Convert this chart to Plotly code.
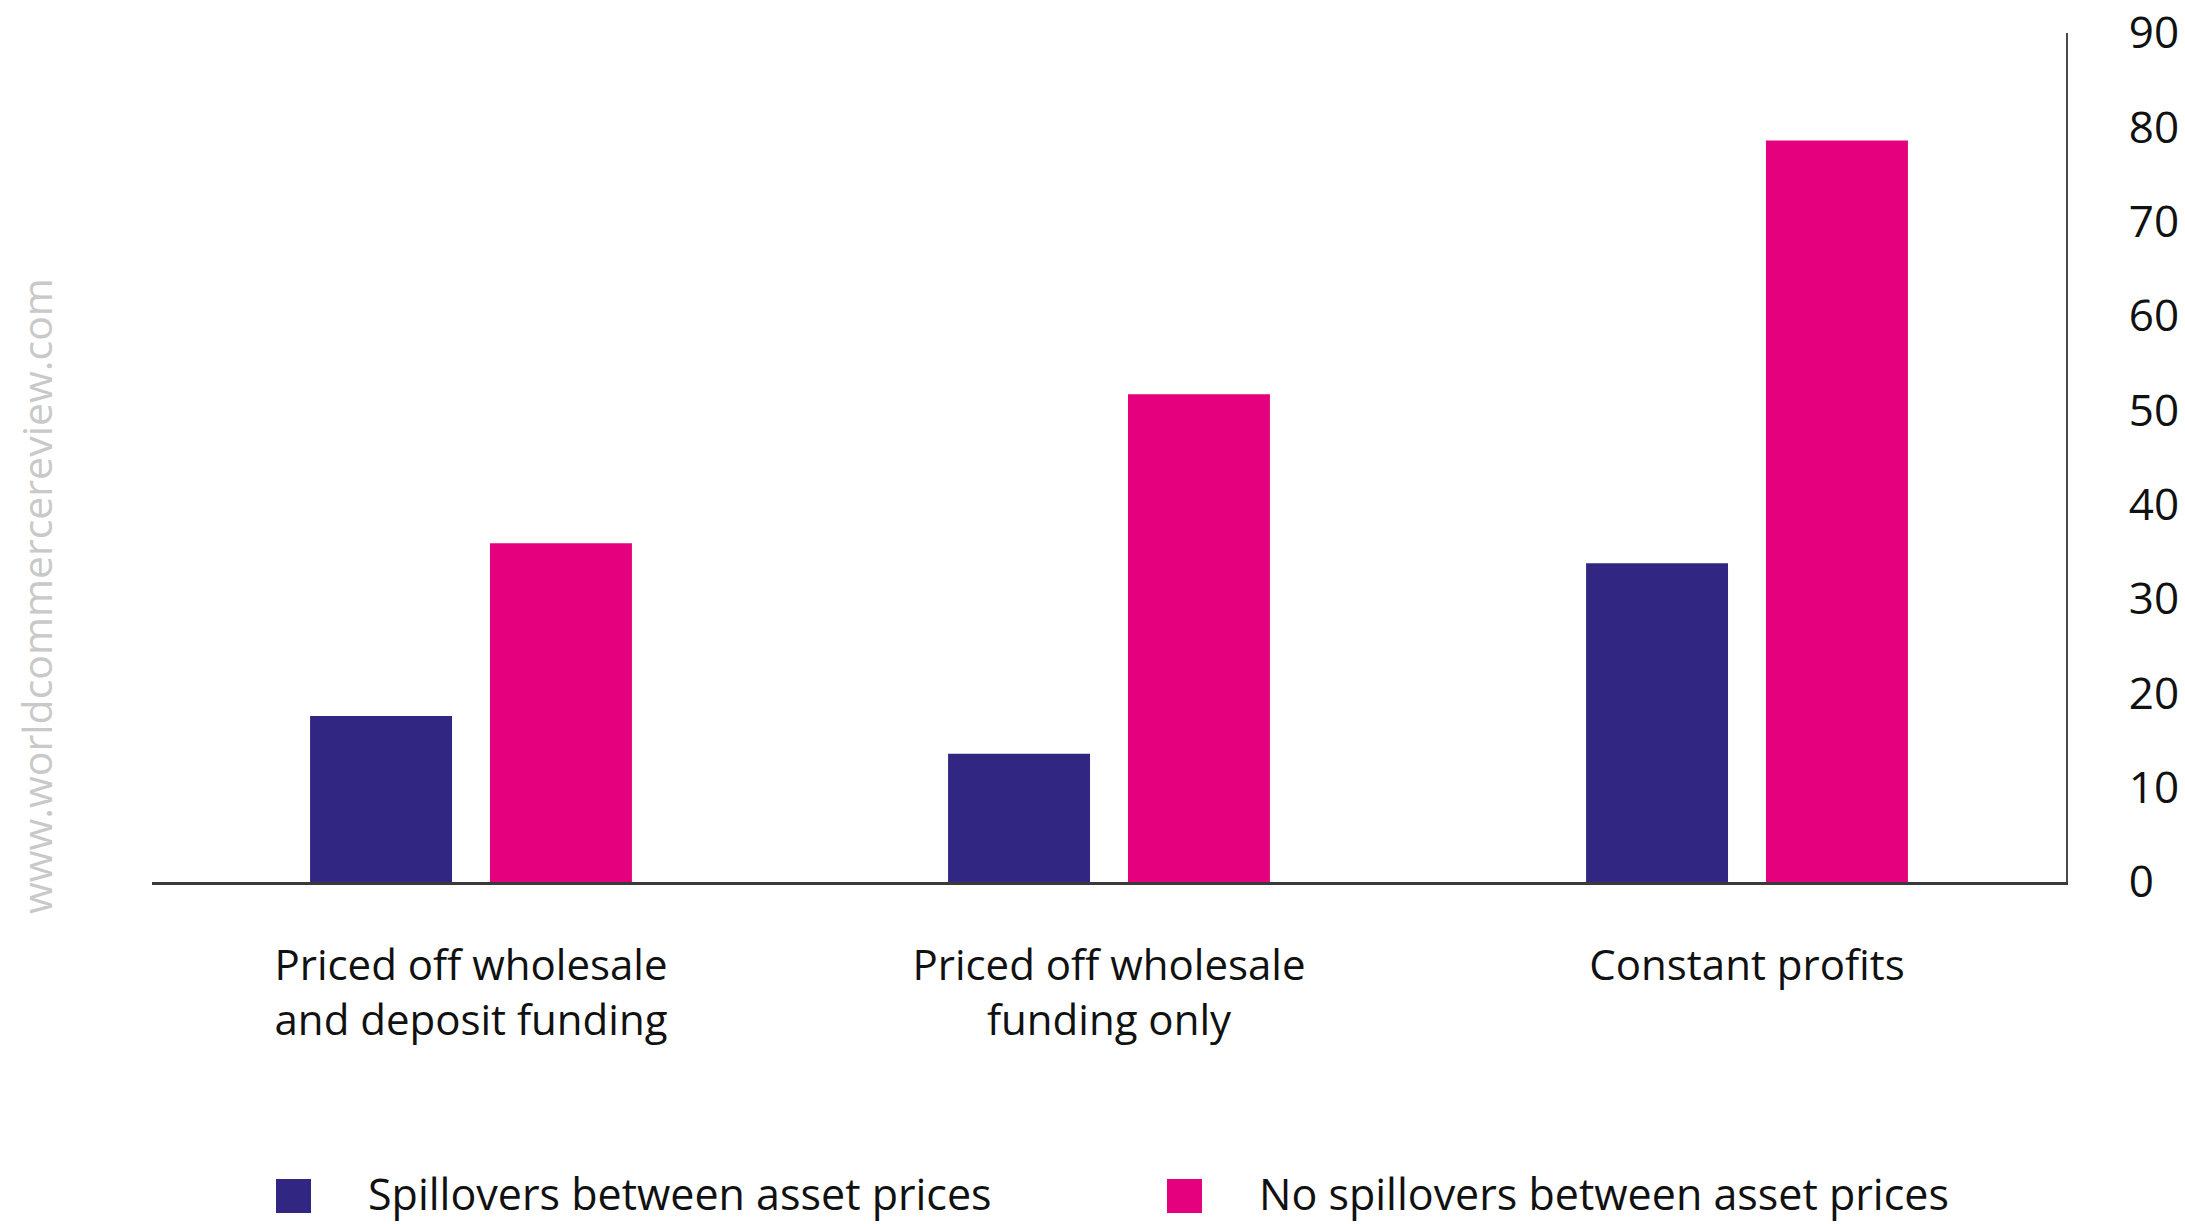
import plotly.graph_objects as go

# Chart data
categories = [
    "Priced off wholesale<br>and deposit funding",
    "Priced off wholesale<br>funding only",
    "Constant profits",
]
series_names = ["Spillovers between asset prices", "No spillovers between asset prices"]
spillovers = [17.6, 13.6, 33.8]
no_spillovers = [35.9, 51.7, 78.6]
series_colors = ["#312782", "#E5007D"]
y_ticks = [0, 10, 20, 30, 40, 50, 60, 70, 80, 90]

W, H = 2185, 1224
M_L, M_R, M_T, M_B = 152, 119, 33, 342
PW, PH = W - M_L - M_R, H - M_T - M_B

FONT = "Open Sans"


def px_x(px):
    return (px - M_L) / PW


def px_y(py):
    return (H - M_B - py) / PH


fig = go.Figure()
for name, vals, col in zip(series_names, [spillovers, no_spillovers], series_colors):
    fig.add_trace(go.Bar(x=categories, y=vals, name=name, marker=dict(color=col, line=dict(width=0)),
                         showlegend=False))

fig.update_layout(
    width=W, height=H,
    margin=dict(l=M_L, r=M_R, t=M_T, b=M_B, pad=0, autoexpand=False),
    paper_bgcolor="white", plot_bgcolor="white",
    barmode="group", bargap=0.436, bargroupgap=0.211,
    font=dict(family=FONT, color="#1a1a1a"),
)

fig.update_xaxes(
    showline=True, linecolor="#3a3a3a", linewidth=2.5, automargin=False,
    showgrid=False, ticks="", tickfont=dict(size=42, color="#111"),
    ticklabelstandoff=45, zeroline=False,
)
fig.update_yaxes(
    side="right", range=[0, 90], tickvals=y_ticks, automargin=False,
    showline=True, linecolor="#4a4a4a", linewidth=2,
    showgrid=False, zeroline=False, ticks="",
    tickfont=dict(size=44, color="#111"), ticklabelstandoff=52,
)

# Legend drawn as swatches and labels beneath the chart
legend_items = [(276, 311, 366), (1167, 1202, 1257)]
for (x0, x1, tx), name, col in zip(legend_items, series_names, series_colors):
    fig.add_shape(type="rect", xref="paper", yref="paper",
                  x0=px_x(x0), x1=px_x(x1), y0=px_y(1213), y1=px_y(1179),
                  fillcolor=col, line=dict(width=0))
    fig.add_annotation(text=name, xref="paper", yref="paper",
                       x=px_x(tx), y=px_y(1193), xanchor="left", yanchor="middle",
                       showarrow=False, font=dict(size=43, color="#111", family=FONT))

# Site watermark along the left edge
fig.add_annotation(text="www.worldcommercereview.com", xref="paper", yref="paper",
                   x=px_x(36), y=px_y(596), textangle=-90, showarrow=False,
                   xanchor="center", yanchor="middle",
                   font=dict(size=41, color="#c9c9c9", family=FONT))

fig.write_html("out.html")
